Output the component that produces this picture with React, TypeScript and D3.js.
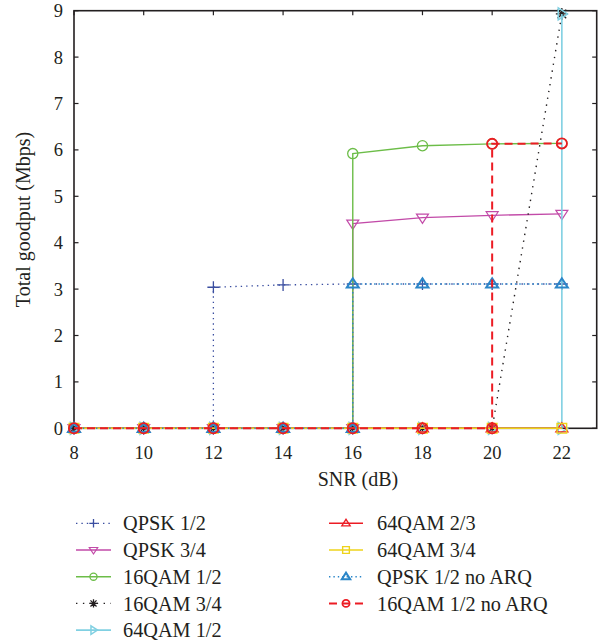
import React from "react";
import * as d3 from "d3";

const SERIES_NAMES = [
  "QPSK 1/2",
  "QPSK 3/4",
  "16QAM 1/2",
  "16QAM 3/4",
  "64QAM 1/2",
  "64QAM 2/3",
  "64QAM 3/4",
  "QPSK 1/2 no ARQ",
  "16QAM 1/2 no ARQ",
];

const qpsk12X = [8, 10, 12, 12, 14, 16, 18, 20, 22];
const qpsk12Y = [0, 0, 0, 3.04, 3.09, 3.11, 3.11, 3.11, 3.11];
const qpsk34X = [8, 10, 12, 14, 16, 16, 18, 20, 22];
const qpsk34Y = [0, 0, 0, 0, 0, 4.41, 4.54, 4.59, 4.62];
const qam16_12X = [8, 10, 12, 14, 16, 16, 18, 20, 22];
const qam16_12Y = [0, 0, 0, 0, 0, 5.92, 6.09, 6.13, 6.14];
const qam16_34X = [8, 10, 12, 14, 16, 18, 20, 22];
const qam16_34Y = [0, 0, 0, 0, 0, 0, 0, 8.93];
const qam64_12X = [8, 10, 12, 14, 16, 18, 20, 22, 22];
const qam64_12Y = [0, 0, 0, 0, 0, 0, 0, 0, 8.93];
const qam64_23X = [8, 10, 12, 14, 16, 18, 20, 22];
const qam64_23Y = [0, 0, 0, 0, 0, 0, 0, 0];
const qam64_34X = [8, 10, 12, 14, 16, 18, 20, 22];
const qam64_34Y = [0, 0, 0, 0, 0, 0, 0, 0];
const qpsk12nX = [8, 10, 12, 14, 16, 16, 18, 20, 22];
const qpsk12nY = [0, 0, 0, 0, 0, 3.11, 3.11, 3.11, 3.11];
const qam16_12nX = [8, 10, 12, 14, 16, 18, 20, 20, 22];
const qam16_12nY = [0, 0, 0, 0, 0, 0, 0, 6.13, 6.14];

const SERIES_X = [qpsk12X, qpsk34X, qam16_12X, qam16_34X, qam64_12X, qam64_23X, qam64_34X, qpsk12nX, qam16_12nX];
const SERIES_Y = [qpsk12Y, qpsk34Y, qam16_12Y, qam16_34Y, qam64_12Y, qam64_23Y, qam64_34Y, qpsk12nY, qam16_12nY];

const X_TICKS = [8, 10, 12, 14, 16, 18, 20, 22];
const Y_TICKS = [0, 1, 2, 3, 4, 5, 6, 7, 8, 9];

const X_TITLE = "SNR (dB)";
const Y_TITLE = "Total goodput (Mbps)";

type Style = { color: string; dash: string; width: number; marker: string; mw: number };
const STYLES: Style[] = [
  { color: "#3a4ea0", dash: "1.4,4", width: 1.3, marker: "plus", mw: 1.3 },
  { color: "#c24aa8", dash: "", width: 1.3, marker: "triDown", mw: 1.2 },
  { color: "#6cbd48", dash: "", width: 1.4, marker: "circle", mw: 1.3 },
  { color: "#231f20", dash: "1.4,5.5", width: 1.4, marker: "star", mw: 1.3 },
  { color: "#80d0e2", dash: "", width: 1.6, marker: "triRight", mw: 1.5 },
  { color: "#ec1c24", dash: "", width: 1.4, marker: "triUp", mw: 1.3 },
  { color: "#eed31a", dash: "", width: 1.6, marker: "square", mw: 1.4 },
  { color: "#2b86c8", dash: "1.4,3", width: 1.4, marker: "triUp", mw: 2 },
  { color: "#ec1c24", dash: "8,5", width: 2, marker: "circle", mw: 1.8 },
];

const FONT = "'Liberation Serif', 'Times New Roman', serif";
const W = 603;
const H = 642;
const PL = 74;
const PR = 596.7;
const PT = 10.7;
const PB = 428.3;

function markerPath(type: string, s: number): string {
  switch (type) {
    case "plus":
      return `M${-s},0H${s}M0,${-s}V${s}`;
    case "star": {
      const d = s * 0.72;
      return `M${-s},0H${s}M0,${-s}V${s}M${-d},${-d}L${d},${d}M${-d},${d}L${d},${-d}`;
    }
    case "triDown":
      return `M${-s},${-s * 0.6}L${s},${-s * 0.6}L0,${s * 0.95}Z`;
    case "triUp":
      return `M${-s},${s * 0.6}L${s},${s * 0.6}L0,${-s * 0.95}Z`;
    case "triRight":
      return `M${-s * 0.6},${-s}L${-s * 0.6},${s}L${s * 0.95},0Z`;
    case "square":
      return `M${-s * 0.8},${-s * 0.8}H${s * 0.8}V${s * 0.8}H${-s * 0.8}Z`;
    default:
      return "";
  }
}

function Marker({ type, x, y, s, color, w }: { type: string; x: number; y: number; s: number; color: string; w: number }) {
  if (type === "circle") {
    return <circle cx={x} cy={y} r={s * 0.85} fill="none" stroke={color} strokeWidth={w} />;
  }
  return (
    <path
      d={markerPath(type, s)}
      transform={`translate(${x},${y})`}
      fill="none"
      stroke={color}
      strokeWidth={w}
      strokeLinejoin="miter"
    />
  );
}

export default function App() {
  const x = d3.scaleLinear().domain([8, 23]).range([PL, PR]);
  const y = d3.scaleLinear().domain([0, 9]).range([PB, PT]);
  const line = d3
    .line<[number, number]>()
    .x((d) => x(d[0]))
    .y((d) => y(d[1]));

  const tickLen = 4.5;
  const axisColor = "#231f20";

  const legendLeft = { x1: 76, x2: 111, tx: 123 };
  const legendRight = { x1: 329, x2: 363, tx: 377 };
  const legendY0 = 523.3;
  const legendDy = 26.7;

  return (
    <svg
      width={W}
      height={H}
      style={{ position: "absolute", left: 0, top: 0, background: "#fff" }}
      fontFamily={FONT}
    >
      <rect x={0} y={0} width={W} height={H} fill="#fff" />
      {/* frame */}
      <rect x={PL} y={PT} width={PR - PL} height={PB - PT} fill="none" stroke={axisColor} strokeWidth={1.6} />
      {X_TICKS.map((t) => (
        <g key={"xt" + t}>
          <line x1={x(t)} x2={x(t)} y1={PT} y2={PT + tickLen} stroke={axisColor} strokeWidth={1.2} />
          <line x1={x(t)} x2={x(t)} y1={PB} y2={PB - tickLen} stroke={axisColor} strokeWidth={1.2} />
          <text x={x(t)} y={458.5} fontSize={18.5} textAnchor="middle" fill="#231f20">
            {t}
          </text>
        </g>
      ))}
      {Y_TICKS.map((t) => (
        <g key={"yt" + t}>
          <line x1={PL} x2={PL + tickLen} y1={y(t)} y2={y(t)} stroke={axisColor} strokeWidth={1.2} />
          <line x1={PR} x2={PR - tickLen} y1={y(t)} y2={y(t)} stroke={axisColor} strokeWidth={1.2} />
          <text x={63} y={y(t)} dy="0.35em" fontSize={18.5} textAnchor="end" fill="#231f20">
            {t}
          </text>
        </g>
      ))}
      <text x={358} y={486} fontSize={20} textAnchor="middle" fill="#231f20">
        {X_TITLE}
      </text>
      <text
        transform={`translate(30,${(PT + PB) / 2}) rotate(-90)`}
        fontSize={20}
        textAnchor="middle"
        fill="#231f20"
      >
        {Y_TITLE}
      </text>

      {/* series */}
      {SERIES_NAMES.map((name, i) => {
        const st = STYLES[i];
        const pts = SERIES_X[i].map((v, j) => [v, SERIES_Y[i][j]] as [number, number]);
        return (
          <g key={name}>
            <path
              d={line(pts) || ""}
              fill="none"
              stroke={st.color}
              strokeWidth={st.width}
              strokeDasharray={st.dash || undefined}
            />
            {pts.map((p, j) => (
              <Marker key={j} type={st.marker} x={x(p[0])} y={y(p[1])} s={6} color={st.color} w={st.mw} />
            ))}
          </g>
        );
      })}

      {/* legend */}
      {SERIES_NAMES.map((name, i) => {
        const st = STYLES[i];
        const col = i < 5 ? legendLeft : legendRight;
        const row = i < 5 ? i : i - 5;
        const ly = legendY0 + row * legendDy;
        const cx = (col.x1 + col.x2) / 2;
        return (
          <g key={"lg" + name}>
            <line
              x1={col.x1}
              x2={col.x2}
              y1={ly}
              y2={ly}
              stroke={st.color}
              strokeWidth={st.width}
              strokeDasharray={st.dash || undefined}
            />
            <Marker type={st.marker} x={cx} y={ly} s={4.2} color={st.color} w={st.mw} />
            <text x={col.tx} y={ly} dy="0.35em" fontSize={20.3} fill="#231f20">
              {name}
            </text>
          </g>
        );
      })}
    </svg>
  );
}
